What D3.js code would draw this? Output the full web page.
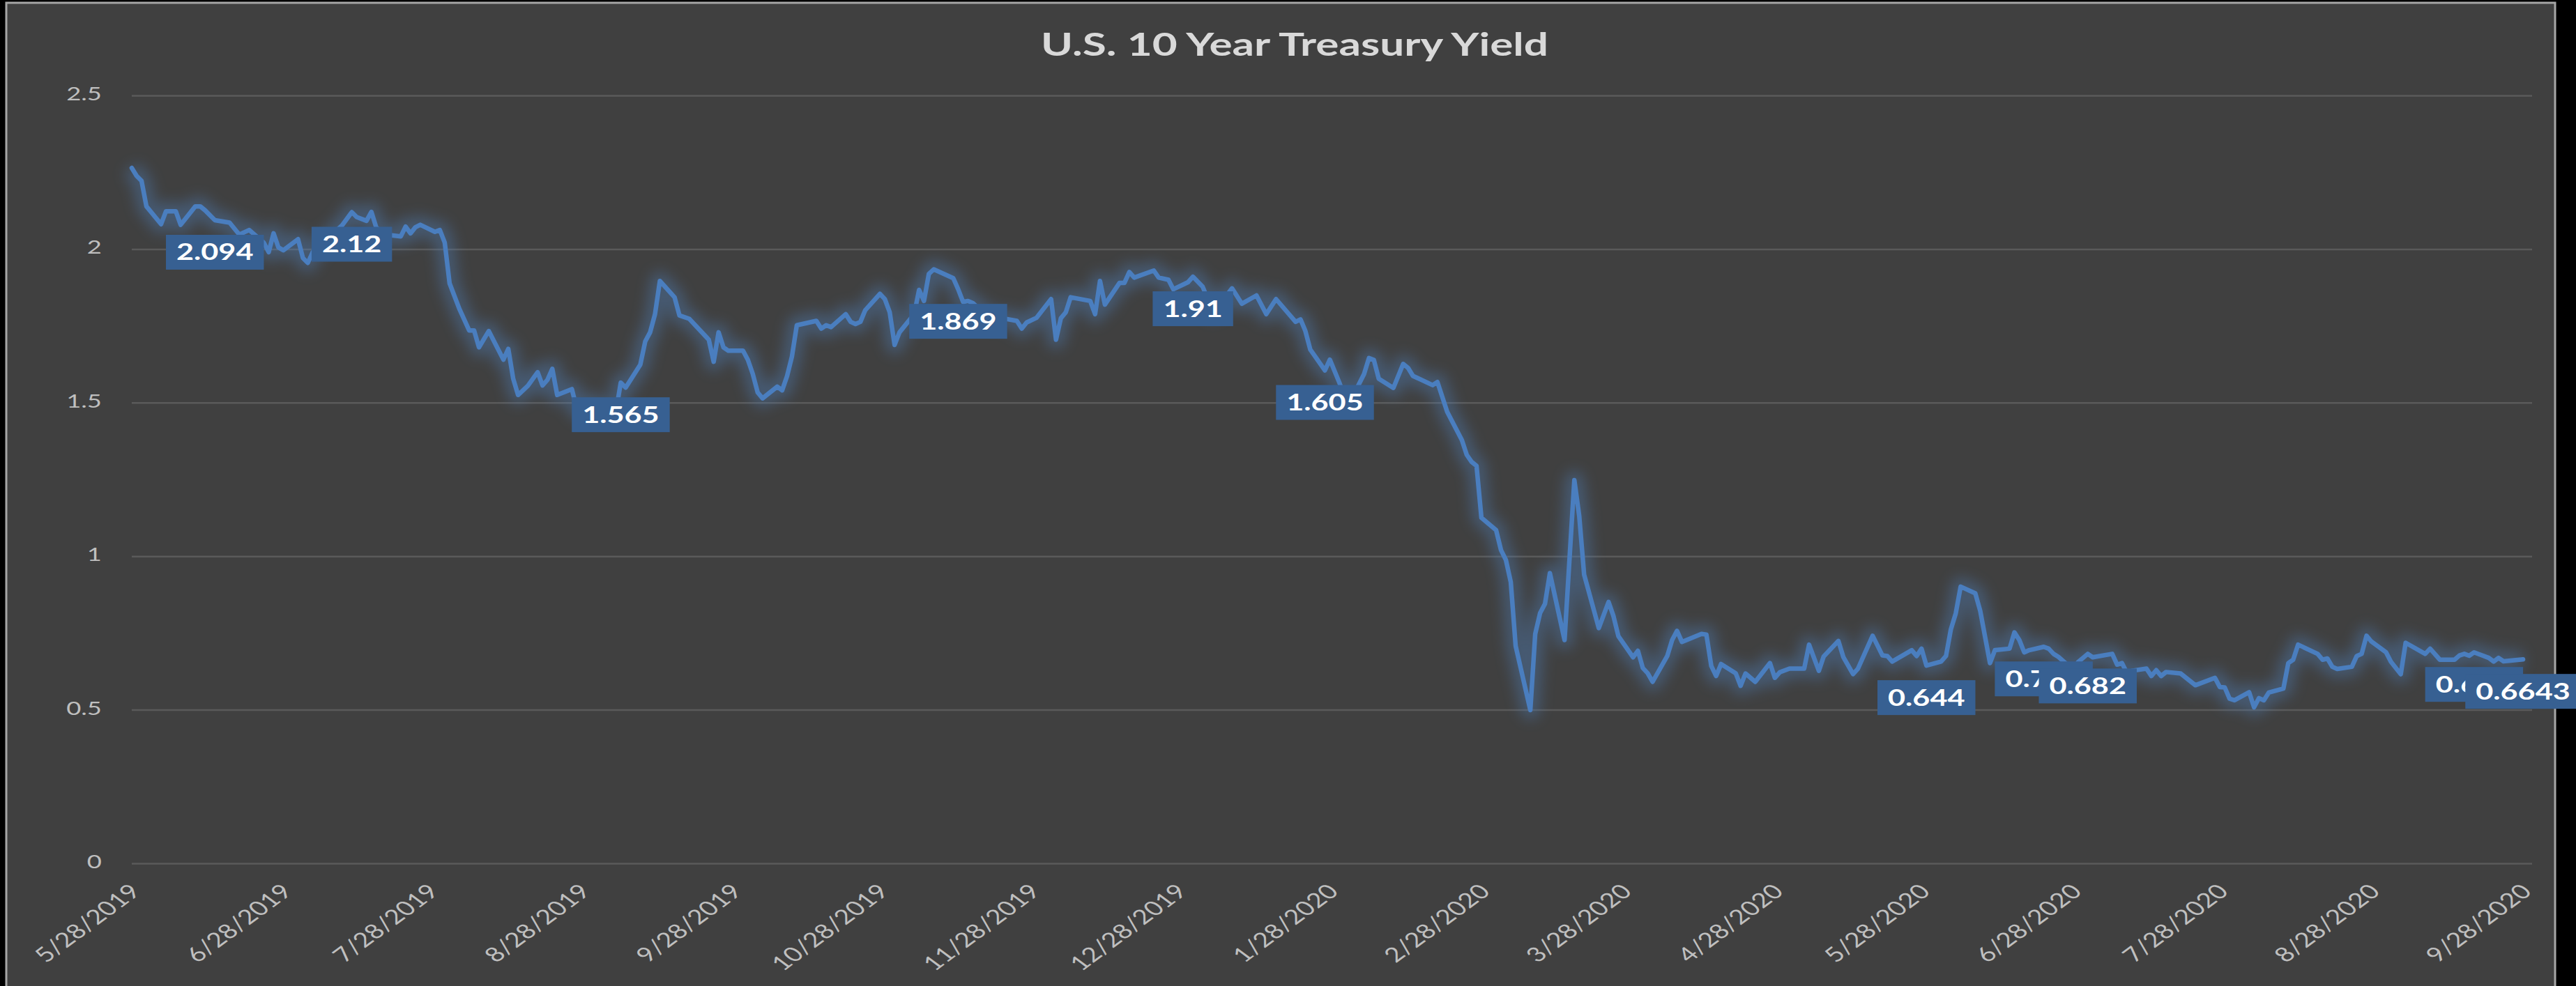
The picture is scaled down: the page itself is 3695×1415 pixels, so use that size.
<!DOCTYPE html>
<meta charset="utf-8">
<script src="https://cdn.jsdelivr.net/npm/d3@7"></script>

<style>
body{margin:0;background:#000;overflow:hidden;}
svg text{font-family:Lato,"Open Sans",sans-serif;}
</style>

<body>
<script>
// 10y yield
var dates=["2019-05-28","2019-05-29","2019-05-30","2019-05-31","2019-06-03","2019-06-04","2019-06-06","2019-06-07","2019-06-10","2019-06-11",
"2019-06-12","2019-06-14","2019-06-17","2019-06-19","2019-06-21","2019-06-24","2019-06-25","2019-06-26","2019-06-27","2019-06-28",
"2019-07-01","2019-07-02","2019-07-03","2019-07-04","2019-07-10","2019-07-12","2019-07-13","2019-07-15","2019-07-16","2019-07-17",
"2019-07-19","2019-07-22","2019-07-23","2019-07-24","2019-07-25","2019-07-26","2019-07-29","2019-07-30","2019-07-31","2019-08-01",
"2019-08-03","2019-08-05","2019-08-06","2019-08-07","2019-08-09","2019-08-12","2019-08-13","2019-08-14","2019-08-15","2019-08-17",
"2019-08-19","2019-08-20","2019-08-21","2019-08-22","2019-08-23","2019-08-26","2019-08-27","2019-08-28","2019-08-30","2019-09-03",
"2019-09-04","2019-09-05","2019-09-06","2019-09-09","2019-09-10","2019-09-11","2019-09-12","2019-09-13","2019-09-16","2019-09-17",
"2019-09-19","2019-09-23","2019-09-24","2019-09-25","2019-09-26","2019-09-27","2019-09-30","2019-10-01","2019-10-02","2019-10-03",
"2019-10-04","2019-10-07","2019-10-08","2019-10-09","2019-10-10","2019-10-11","2019-10-15","2019-10-16","2019-10-17","2019-10-18",
"2019-10-21","2019-10-22","2019-10-23","2019-10-24","2019-10-25","2019-10-28","2019-10-29","2019-10-30","2019-10-31","2019-11-01",
"2019-11-04","2019-11-05","2019-11-06","2019-11-07","2019-11-08","2019-11-12","2019-11-13","2019-11-14","2019-11-15","2019-11-16",
"2019-11-19","2019-11-22","2019-11-25","2019-11-26","2019-11-27","2019-11-29","2019-12-02","2019-12-03","2019-12-04","2019-12-05",
"2019-12-06","2019-12-10","2019-12-11","2019-12-12","2019-12-13","2019-12-16","2019-12-17","2019-12-18","2019-12-19","2019-12-23",
"2019-12-24","2019-12-26","2019-12-27","2019-12-30","2019-12-31","2020-01-02","2020-01-04","2020-01-05","2020-01-08","2020-01-10",
"2020-01-13","2020-01-15","2020-01-17","2020-01-21","2020-01-22","2020-01-23","2020-01-24","2020-01-27","2020-01-28","2020-01-30",
"2020-01-31","2020-02-02","2020-02-04","2020-02-05","2020-02-06","2020-02-07","2020-02-10","2020-02-12","2020-02-13","2020-02-14",
"2020-02-18","2020-02-19","2020-02-21","2020-02-24","2020-02-25","2020-02-26","2020-02-27","2020-02-28","2020-03-02","2020-03-03",
"2020-03-04","2020-03-05","2020-03-06","2020-03-09","2020-03-10","2020-03-11","2020-03-12","2020-03-13","2020-03-16","2020-03-18",
"2020-03-19","2020-03-20","2020-03-23","2020-03-25","2020-03-26","2020-03-27","2020-03-30","2020-03-31","2020-04-01","2020-04-02",
"2020-04-03","2020-04-06","2020-04-07","2020-04-08","2020-04-09","2020-04-13","2020-04-14","2020-04-15","2020-04-16","2020-04-17",
"2020-04-20","2020-04-21","2020-04-22","2020-04-24","2020-04-27","2020-04-28","2020-04-29","2020-05-01","2020-05-04","2020-05-05",
"2020-05-07","2020-05-08","2020-05-11","2020-05-12","2020-05-14","2020-05-15","2020-05-18","2020-05-20","2020-05-21","2020-05-22",
"2020-05-26","2020-05-27","2020-05-28","2020-05-29","2020-06-01","2020-06-02","2020-06-03","2020-06-04","2020-06-05","2020-06-08",
"2020-06-09","2020-06-11","2020-06-12","2020-06-15","2020-06-16","2020-06-17","2020-06-18","2020-06-19","2020-06-22","2020-06-23",
"2020-06-24","2020-06-25","2020-06-28","2020-06-29","2020-07-01","2020-07-02","2020-07-06","2020-07-07","2020-07-08","2020-07-09",
"2020-07-10","2020-07-13","2020-07-14","2020-07-15","2020-07-16","2020-07-17","2020-07-20","2020-07-23","2020-07-27","2020-07-28",
"2020-07-29","2020-07-30","2020-07-31","2020-08-03","2020-08-04","2020-08-05","2020-08-06","2020-08-07","2020-08-10","2020-08-11",
"2020-08-12","2020-08-13","2020-08-17","2020-08-18","2020-08-19","2020-08-20","2020-08-21","2020-08-24","2020-08-25","2020-08-26",
"2020-08-27","2020-08-28","2020-08-31","2020-09-01","2020-09-03","2020-09-04","2020-09-08","2020-09-09","2020-09-11","2020-09-14",
"2020-09-15","2020-09-16","2020-09-17","2020-09-18","2020-09-21","2020-09-22","2020-09-23","2020-09-24","2020-09-28"];

var yields=[2.264,2.238,2.222,2.139,2.081,2.123,2.123,2.079,2.139,2.139,
2.126,2.094,2.086,2.047,2.062,2.021,1.990,2.051,2.005,1.996,
2.032,1.971,1.955,1.990,2.077,2.12,2.104,2.092,2.121,2.070,
2.047,2.041,2.073,2.051,2.071,2.079,2.056,2.062,2.021,1.888,
1.805,1.735,1.735,1.680,1.733,1.640,1.675,1.578,1.525,1.555,
1.599,1.556,1.574,1.610,1.525,1.544,1.480,1.47,1.50,1.47,
1.47,1.565,1.549,1.624,1.699,1.729,1.788,1.896,1.843,1.784,
1.773,1.705,1.633,1.729,1.680,1.669,1.669,1.639,1.593,1.533,
1.514,1.552,1.540,1.586,1.650,1.752,1.766,1.741,1.752,1.746,
1.788,1.763,1.756,1.763,1.801,1.854,1.837,1.794,1.688,1.729,
1.788,1.867,1.831,1.919,1.934,1.905,1.869,1.828,1.831,1.824,
1.78,1.775,1.766,1.741,1.761,1.776,1.837,1.705,1.775,1.794,
1.843,1.831,1.788,1.896,1.819,1.890,1.890,1.925,1.907,1.930,
1.907,1.900,1.869,1.892,1.91,1.877,1.80,1.81,1.872,1.822,
1.849,1.788,1.837,1.763,1.771,1.733,1.673,1.605,1.640,1.563,
1.52,1.53,1.593,1.645,1.639,1.578,1.548,1.626,1.613,1.587,
1.557,1.567,1.470,1.378,1.330,1.307,1.294,1.125,1.085,1.020,
0.988,0.916,0.708,0.499,0.747,0.815,0.845,0.945,0.727,1.248,
1.131,0.940,0.766,0.851,0.805,0.740,0.671,0.692,0.636,0.619,
0.591,0.675,0.727,0.757,0.721,0.747,0.745,0.643,0.610,0.649,
0.619,0.578,0.618,0.591,0.652,0.604,0.622,0.634,0.634,0.712,
0.627,0.674,0.724,0.672,0.616,0.634,0.741,0.677,0.675,0.657,
0.694,0.675,0.699,0.644,0.657,0.675,0.762,0.814,0.901,0.879,
0.822,0.652,0.694,0.699,0.752,0.727,0.687,0.694,0.705,0.699,
0.682,0.672,0.63,0.655,0.682,0.671,0.682,0.647,0.652,0.62,
0.627,0.634,0.610,0.629,0.610,0.623,0.618,0.580,0.604,0.574,
0.573,0.536,0.531,0.557,0.508,0.538,0.531,0.556,0.569,0.652,
0.663,0.712,0.682,0.663,0.667,0.640,0.633,0.640,0.675,0.682,
0.741,0.722,0.687,0.656,0.616,0.718,0.682,0.699,0.663,0.663,
0.677,0.682,0.676,0.687,0.669,0.657,0.669,0.658,0.6643];

// points carrying a data label
var labelDates=["2019-06-14","2019-07-12","2019-09-05","2019-11-13","2019-12-31","2020-01-27",
"2020-05-29","2020-06-22","2020-07-01","2020-09-18","2020-09-28"];

var xTicks=["2019-05-28","2019-06-28","2019-07-28","2019-08-28","2019-09-28","2019-10-28","2019-11-28","2019-12-28",
"2020-01-28","2020-02-28","2020-03-28","2020-04-28","2020-05-28","2020-06-28","2020-07-28","2020-08-28","2020-09-28"];
var yTicks=[0,0.5,1,1.5,2,2.5];
var title="U.S. 10 Year Treasury Yield";

var W=3695,H=1415;
var plotL=189,plotR=3619,plotT=137,plotB=1239;
var sx=1.35; // text is drawn a bit wider than tall, like the picture

var parse=d3.utcParse("%Y-%m-%d");
var fmt=d3.utcFormat("%-m/%-d/%Y");

var svg=d3.select("body").append("svg")
    .attr("width",W)
    .attr("height",H);

var defs=svg.append("defs");
defs.append("filter").attr("id","glow")
    .attr("x","-5%").attr("y","-10%").attr("width","110%").attr("height","120%")
  .append("feGaussianBlur").attr("stdDeviation",10);

// chart area
svg.append("rect")
    .attr("x",9).attr("y",4)
    .attr("width",3656).attr("height",1420)
    .attr("fill","#404040")
    .attr("stroke","#a6a6a6")
    .attr("stroke-width",3);

var x=d3.scaleUtc().domain([parse("2019-05-28"),parse("2020-09-28")]).range([plotL,plotR]);
var y=d3.scaleLinear().domain([0,2.5]).range([plotB,plotT]);

// y axis + grid
var yaxis=svg.append("g")
    .attr("transform","translate("+plotL+",0)")
    .call(d3.axisLeft(y).tickValues(yTicks).tickFormat(d3.format("")).tickSize(-(3632-plotL)));
yaxis.select(".domain").remove();
yaxis.selectAll("line").attr("stroke","#5a5a5a").attr("stroke-width",2.5);
yaxis.selectAll("text")
    .attr("x",null).attr("dy",null)
    .attr("transform","translate("+(146-plotL)+",-3) scale("+sx+",1)")
    .attr("dy","0.35em")
    .attr("text-anchor","end")
    .attr("fill","#bfbfbf")
    .style("font-size","27px");

// x axis labels
var xaxis=svg.append("g")
    .attr("transform","translate(0,"+plotB+")")
    .call(d3.axisBottom(x).tickValues(xTicks.map(parse)).tickFormat(fmt).tickSize(0));
xaxis.select(".domain").remove();
xaxis.selectAll("text")
    .attr("y",null).attr("dy",null)
    .attr("transform","translate(14,42) scale("+sx+",1) rotate(-45)")
    .attr("text-anchor","end")
    .attr("fill","#bfbfbf")
    .style("font-size","29px");

var data=dates.map(function(d,i){return {date:parse(d),value:yields[i],key:d};});

var linegen=d3.line()
    .x(function(d){return x(d.date);})
    .y(function(d){return y(d.value);});

// soft glow under the line
svg.append("path")
    .datum(data)
    .attr("d",linegen)
    .attr("fill","none")
    .attr("stroke","#4f81bd")
    .attr("stroke-width",26)
    .attr("stroke-linejoin","round")
    .attr("opacity",0.4)
    .attr("filter","url(#glow)");

svg.append("path")
    .datum(data)
    .attr("d",linegen)
    .attr("fill","none")
    .attr("stroke","#4a7ebf")
    .attr("stroke-width",6.5)
    .attr("stroke-linejoin","round")
    .attr("stroke-linecap","round");

// data labels, below their point
var labelled=data.filter(function(d){return labelDates.indexOf(d.key)>=0;});
var lab=svg.selectAll(".lab")
    .data(labelled)
    .enter()
    .append("g")
    .attr("class","lab")
    .attr("transform",function(d){return "translate("+x(d.date)+","+(y(d.value)+46)+")";});

lab.each(function(d){
  var g=d3.select(this);
  var t=g.append("text")
      .attr("transform","scale("+sx+",1)")
      .attr("text-anchor","middle")
      .attr("dy","0.36em")
      .attr("fill","#ffffff")
      .style("font-size","32px")
      .style("font-weight","bold")
      .text(d.value);
  var w=t.node().getComputedTextLength()*sx+30;
  g.insert("rect","text")
      .attr("x",-w/2).attr("y",-25)
      .attr("width",w).attr("height",50)
      .attr("fill","#376092");
});

svg.append("text")
    .attr("transform","translate(1857,80) scale("+sx+",1)")
    .attr("text-anchor","middle")
    .attr("fill","#d9d9d9")
    .style("font-size","46px")
    .style("font-weight","bold")
    .text(title);

</script>
</body>
</html>
